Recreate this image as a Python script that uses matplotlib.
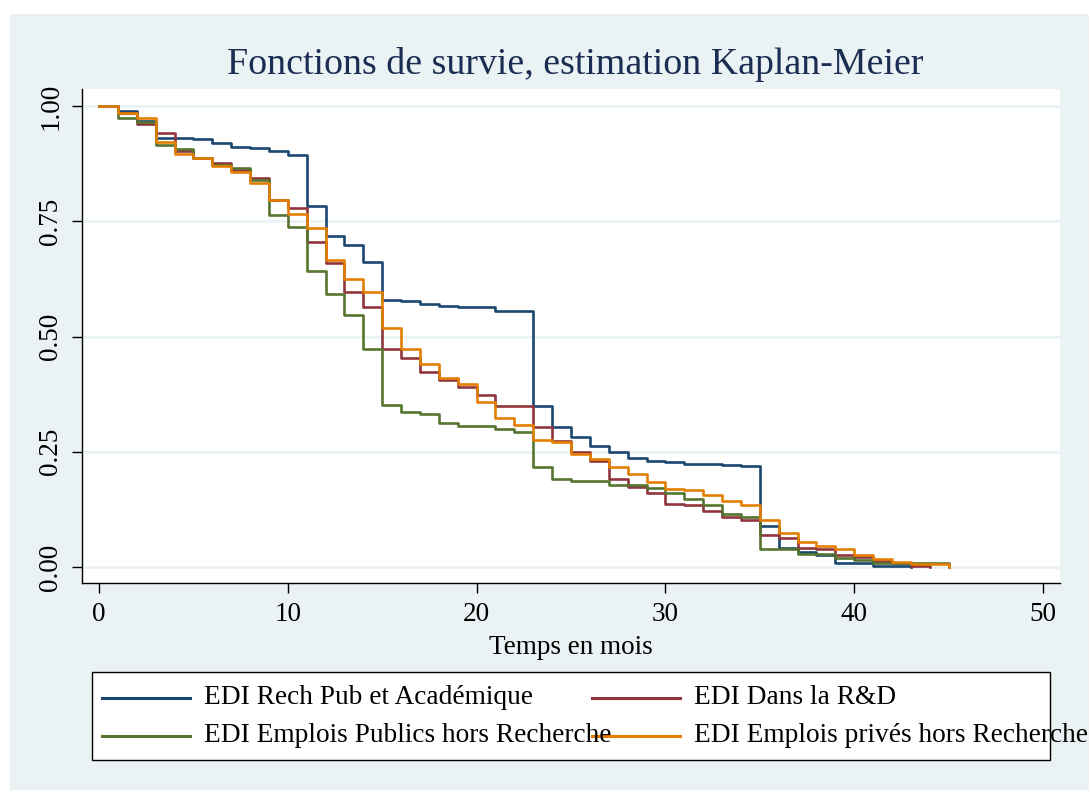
import matplotlib
matplotlib.use('Agg')
import matplotlib.pyplot as plt
from matplotlib.lines import Line2D
from matplotlib.patches import Rectangle
import numpy as np

# courbes de survie (valeur sur [t, t+1))
labels = ['EDI Rech Pub et Académique',
          'EDI Dans la R&D',
          'EDI Emplois Publics hors Recherche',
          'EDI Emplois privés hors Recherche']

surv_rech = [1.0, 0.990, 0.968, 0.931, 0.930, 0.928, 0.919, 0.912, 0.908, 0.902,
             0.894, 0.784, 0.718, 0.698, 0.661, 0.579, 0.576, 0.570, 0.566, 0.563,
             0.563, 0.556, 0.556, 0.349, 0.303, 0.283, 0.262, 0.249, 0.237, 0.231,
             0.228, 0.224, 0.223, 0.222, 0.220, 0.090, 0.041, 0.032, 0.025, 0.008,
             0.008, 0.002, 0.002, 0.0]
surv_rd = [1.0, 0.985, 0.961, 0.942, 0.903, 0.887, 0.877, 0.862, 0.843, 0.796,
           0.778, 0.704, 0.659, 0.597, 0.563, 0.473, 0.454, 0.423, 0.406, 0.391,
           0.373, 0.349, 0.349, 0.303, 0.274, 0.249, 0.230, 0.191, 0.174, 0.160,
           0.137, 0.134, 0.122, 0.108, 0.102, 0.069, 0.064, 0.042, 0.038, 0.026,
           0.022, 0.013, 0.009, 0.002, 0.0]
surv_pub = [1.0, 0.974, 0.965, 0.916, 0.906, 0.887, 0.873, 0.865, 0.840, 0.764,
            0.738, 0.643, 0.592, 0.547, 0.472, 0.351, 0.337, 0.332, 0.312, 0.306,
            0.306, 0.299, 0.293, 0.216, 0.192, 0.187, 0.187, 0.177, 0.177, 0.172,
            0.160, 0.148, 0.134, 0.115, 0.109, 0.040, 0.040, 0.028, 0.028, 0.019,
            0.015, 0.008, 0.008, 0.008, 0.008, 0.0]
surv_priv = [1.0, 0.985, 0.975, 0.923, 0.897, 0.887, 0.870, 0.857, 0.834, 0.796,
             0.765, 0.735, 0.665, 0.625, 0.596, 0.518, 0.474, 0.440, 0.411, 0.396,
             0.359, 0.323, 0.308, 0.275, 0.272, 0.245, 0.234, 0.218, 0.201, 0.185,
             0.169, 0.166, 0.156, 0.143, 0.134, 0.103, 0.073, 0.055, 0.046, 0.040,
             0.027, 0.017, 0.011, 0.006, 0.006, 0.0]

series = [surv_rech, surv_rd, surv_pub, surv_priv]
colors = ['#1a476f', '#90353b', '#55752f', '#e37e00']

xticks = [0, 10, 20, 30, 40, 50]
yticks = [0.0, 0.25, 0.5, 0.75, 1.0]

W, H = 1089, 790
bg = '#eaf2f3'
plt.rcParams['font.family'] = ['Liberation Serif', 'DejaVu Serif']

fig = plt.figure(figsize=(W/100, H/100), dpi=100)
fig.patch.set_facecolor('white')
fig.add_artist(Rectangle((10/W, 0), 1 - 10/W, 1 - 14/H, transform=fig.transFigure,
                         facecolor=bg, edgecolor='none', zorder=0))

ax = fig.add_axes([82/W, 1 - 583/H, (1060-82)/W, (583-89)/H])
ax.set_facecolor('white')
ax.set_zorder(1)

for s, c in zip(series, colors):
    t = np.arange(len(s))
    ax.step(t, s, where='post', color=c, lw=1.9)

ax.set_xlim(-0.9, 50.9)
ax.set_ylim(-0.0347, 1.037)
ax.set_xticks(xticks)
ax.set_yticks(yticks)
ax.set_yticklabels([f'{v:.2f}' for v in yticks], rotation=90, va='center')
ax.grid(axis='y', color=bg, lw=2)
ax.set_axisbelow(True)
ax.tick_params(axis='both', labelsize=19.5, length=7.5, width=1, color='black', pad=6)
for side in ['top', 'right']:
    ax.spines[side].set_visible(False)
for side in ['left', 'bottom']:
    ax.spines[side].set_linewidth(1)

ax.set_xlabel('Temps en mois', fontsize=19.5, labelpad=6)
fig.text(575/W, 1 - 65/H, 'Fonctions de survie, estimation Kaplan-Meier',
         fontsize=27.3, color='#1c2d53', ha='center', va='center')

# légende (style Stata)
fig.add_artist(Rectangle((92/W, 1 - 760/H), (1050-92)/W, (760-672)/H,
                         transform=fig.transFigure, facecolor='white',
                         edgecolor='black', lw=1, zorder=2))
pos = [(102, 698), (592, 698), (102, 736), (592, 736)]
for (px, py), lab, c in zip(pos, labels, colors):
    fig.add_artist(Line2D([px/W, (px+88)/W], [1 - py/H, 1 - py/H],
                          transform=fig.transFigure, color=c, lw=2.2, zorder=3))
    fig.text((px+102)/W, 1 - py/H, lab, fontsize=19.7, ha='left', va='center', zorder=4)

fig.savefig('out.png', dpi=100, facecolor=fig.get_facecolor())
